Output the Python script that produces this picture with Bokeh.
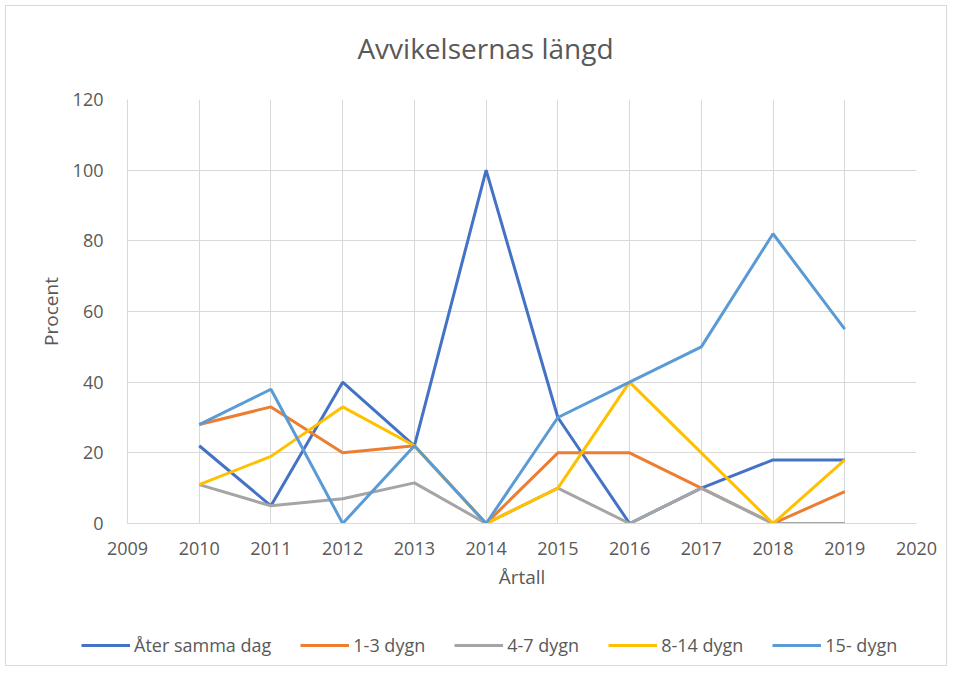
from bokeh.plotting import figure
from bokeh.layouts import column
from bokeh.models import Legend, LegendItem, Label, FixedTicker, Range1d
from bokeh.embed import file_html
from bokeh.resources import INLINE

years = [2010, 2011, 2012, 2013, 2014, 2015, 2016, 2017, 2018, 2019]
ater_samma_dag = [22, 5, 40, 22, 100, 30, 0, 10, 18, 18]
dygn_1_3 = [28, 33, 20, 22, 0, 20, 20, 10, 0, 9]
dygn_4_7 = [11, 5, 7, 11.5, 0, 10, 0, 10, 0, 0]
dygn_8_14 = [11, 19, 33, 22, 0, 10, 40, 20, 0, 18]
dygn_15 = [28, 38, 0, 22, 0, 30, 40, 50, 82, 55]

series_names = ["Åter samma dag", "1-3 dygn", "4-7 dygn", "8-14 dygn", "15- dygn"]
series_values = [ater_samma_dag, dygn_1_3, dygn_4_7, dygn_8_14, dygn_15]
colors = ["#4472C4", "#ED7D31", "#A5A5A5", "#FFC000", "#5B9BD5"]

x_ticks = list(range(2009, 2021))
y_ticks = [0, 20, 40, 60, 80, 100, 120]
chart_title = "Avvikelsernas längd"

FONT = "Open Sans"
TXT = "#595959"

# title strip
hd = figure(width=940, height=70, output_backend="svg", toolbar_location=None,
            x_range=Range1d(0, 1), y_range=Range1d(0, 1),
            x_axis_type=None, y_axis_type=None, min_border=0)
hd.frame_align = False
hd.outline_line_color = None
hd.grid.visible = False
hd.add_layout(Label(x=479, y=29, x_units="screen", y_units="screen", text=chart_title,
                    text_font=FONT, text_font_size="28px", text_color=TXT,
                    text_align="center", text_baseline="middle"))

# main chart
p = figure(width=940, height=529, output_backend="svg", toolbar_location=None,
           x_range=Range1d(2009, 2020), y_range=Range1d(0, 120),
           min_border_left=121, min_border_right=30, min_border_top=23, min_border_bottom=82)
p.frame_align = False
p.outline_line_color = None

p.xaxis.ticker = FixedTicker(ticks=x_ticks)
p.yaxis.ticker = FixedTicker(ticks=y_ticks)
for ax in (p.xaxis, p.yaxis):
    ax.major_tick_line_color = None
    ax.minor_tick_line_color = None
    ax.axis_line_color = "#D9D9D9"
    ax.axis_line_width = 1
    ax.major_label_text_font = FONT
    ax.major_label_text_font_size = "18px"
    ax.major_label_text_color = TXT
    ax.axis_label_text_font = FONT
    ax.axis_label_text_font_size = "19px"
    ax.axis_label_text_font_style = "normal"
    ax.axis_label_text_color = TXT
p.xaxis.axis_label = "Årtall"
p.yaxis.axis_label = "Procent"
p.xaxis.major_label_standoff = 12
p.yaxis.major_label_standoff = 18
p.xaxis.axis_label_standoff = 6
p.yaxis.axis_label_standoff = 6

p.xgrid.grid_line_color = "#D9D9D9"
p.ygrid.grid_line_color = "#D9D9D9"
p.xgrid.ticker = FixedTicker(ticks=x_ticks)
p.ygrid.ticker = FixedTicker(ticks=y_ticks)

for vals, c in zip(series_values, colors):
    p.line(years, vals, line_color=c, line_width=3)

# legend strip below the chart (its lines lie outside its own ranges)
lg = figure(width=940, height=60, output_backend="svg", toolbar_location=None,
            x_range=Range1d(0, 1), y_range=Range1d(0, 1),
            x_axis_type=None, y_axis_type=None, min_border=0)
lg.frame_align = False
lg.outline_line_color = None
lg.grid.visible = False
items = []
for name, vals, c in zip(series_names, series_values, colors):
    r = lg.line(years, vals, line_color=c, line_width=3)
    items.append(LegendItem(label=name, renderers=[r]))
legend = Legend(items=items, orientation="horizontal", location=(75, 8),
                label_text_font=FONT, label_text_font_size="18px", label_text_color=TXT,
                glyph_width=49, glyph_height=14, label_standoff=4, spacing=29,
                border_line_color=None, background_fill_alpha=0, margin=0, padding=5)
lg.add_layout(legend)

layout = column(hd, p, lg, spacing=0)
layout.styles = {"margin-left": "5px", "margin-top": "5px", "border": "1px solid #D9D9D9"}

open("out.html", "w").write(file_html(layout, INLINE))
